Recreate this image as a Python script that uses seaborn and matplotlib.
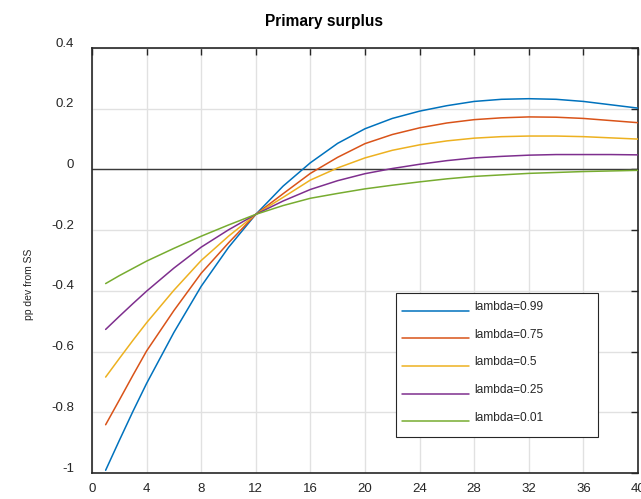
import matplotlib
matplotlib.use("Agg")
import matplotlib.pyplot as plt
import matplotlib.transforms as mtransforms
from matplotlib.patches import Rectangle
import pandas as pd
import seaborn as sns

# 数据：各条曲线（季度，pp dev from SS）
quarters = [1, 2, 3, 4, 6, 8, 10, 12, 14, 16, 18, 20, 22, 24, 26, 28, 30, 32, 34, 36, 38, 40]

lam_099 = [-0.991, -0.893, -0.797, -0.705, -0.537, -0.385, -0.257, -0.148, -0.055, 0.022, 0.086, 0.134,
           0.168, 0.192, 0.210, 0.224, 0.231, 0.233, 0.231, 0.224, 0.213, 0.202]
lam_075 = [-0.841, -0.760, -0.678, -0.598, -0.465, -0.342, -0.242, -0.148, -0.080, -0.013, 0.040, 0.085,
           0.115, 0.137, 0.153, 0.164, 0.170, 0.173, 0.172, 0.168, 0.161, 0.154]
lam_05 = [-0.684, -0.623, -0.563, -0.505, -0.398, -0.300, -0.220, -0.148, -0.092, -0.035, 0.005, 0.038,
          0.063, 0.081, 0.094, 0.103, 0.108, 0.110, 0.110, 0.108, 0.104, 0.100]
lam_025 = [-0.527, -0.484, -0.442, -0.401, -0.325, -0.256, -0.199, -0.148, -0.104, -0.066, -0.037, -0.014,
           0.003, 0.017, 0.029, 0.038, 0.043, 0.047, 0.049, 0.049, 0.049, 0.048]
lam_001 = [-0.376, -0.350, -0.326, -0.302, -0.260, -0.220, -0.183, -0.148, -0.119, -0.095, -0.079, -0.064,
           -0.052, -0.041, -0.031, -0.023, -0.018, -0.013, -0.010, -0.007, -0.005, -0.003]

labels = ["lambda=0.99", "lambda=0.75", "lambda=0.5", "lambda=0.25", "lambda=0.01"]
series = [lam_099, lam_075, lam_05, lam_025, lam_001]
colors = ["#0072BD", "#D95319", "#EDB120", "#7E2F8E", "#77AC30"]

xticks = list(range(0, 41, 4))
yticks = [-1, -0.8, -0.6, -0.4, -0.2, 0, 0.2, 0.4]
ytick_labels = ["-1", "-0.8", "-0.6", "-0.4", "-0.2", "0", "0.2", "0.4"]

# 长表
df = pd.concat(
    [pd.DataFrame({"q": quarters, "val": s, "case": lab}) for s, lab in zip(series, labels)],
    ignore_index=True,
)

sns.set_style("white")
plt.rcParams["font.family"] = ["Liberation Sans", "DejaVu Sans"]

fig = plt.figure(figsize=(6.41, 4.99), dpi=100)
ax = fig.add_axes([0.1435, 0.0521, 0.8518, 0.8517])

ax.grid(True, color="#e1e1e1", linewidth=1, zorder=0)
ax.axhline(0, color="#3a3a3a", linewidth=1, zorder=1)

sns.lineplot(
    data=df, x="q", y="val", hue="case", hue_order=labels,
    palette=colors, linewidth=1.1, ax=ax, legend=True, zorder=3,
)

ax.set_xlim(0, 40)
ax.set_ylim(-1, 0.4)
ax.set_xticks(xticks)
ax.set_yticks(yticks)
ax.set_yticklabels(ytick_labels)
ax.set_xlabel("")
ax.set_ylabel("pp dev from SS", fontsize=7.5, color="#262626")
ax.yaxis.set_label_coords(-0.106, 0.445)

ax.tick_params(axis="both", which="both", direction="in", length=5, width=1,
               top=True, right=True, labelsize=9.5, labelcolor="#262626", color="#262626")
ax.tick_params(axis="y", pad=13)
ax.tick_params(axis="x", pad=7)

# 刻度标签略微上移（与原图一致）
offset = mtransforms.ScaledTranslation(0, 6 / 100, fig.dpi_scale_trans)
for lab in ax.get_yticklabels():
    lab.set_transform(lab.get_transform() + offset)

for sp in ax.spines.values():
    sp.set_visible(True)
    sp.set_color("#262626")
    sp.set_linewidth(1.2)

# 图例外框（MATLAB 风格，下方留白）
box = Rectangle((0.557, 0.085), 0.37, 0.339, transform=ax.transAxes,
                facecolor="white", edgecolor="#262626", linewidth=0.8, zorder=4)
ax.add_patch(box)

leg = ax.legend(
    loc="upper left", bbox_to_anchor=(0.5678, 0.4047),
    borderaxespad=0, borderpad=0, fontsize=8.6,
    handlelength=5.6, labelspacing=1.31, handletextpad=0.42,
    frameon=False,
)
leg.set_zorder(5)
# 图例线略低于文字
line_off = mtransforms.ScaledTranslation(0, -5 / 100, fig.dpi_scale_trans)
for ln in leg.get_lines():
    ln.set_transform(ln.get_transform() + line_off)

fig.text(0.505, 0.956, "Primary surplus", ha="center", va="center",
         fontsize=11.2, fontweight="bold", color="black")

fig.savefig("out.png", dpi=100)
plt.close(fig)
